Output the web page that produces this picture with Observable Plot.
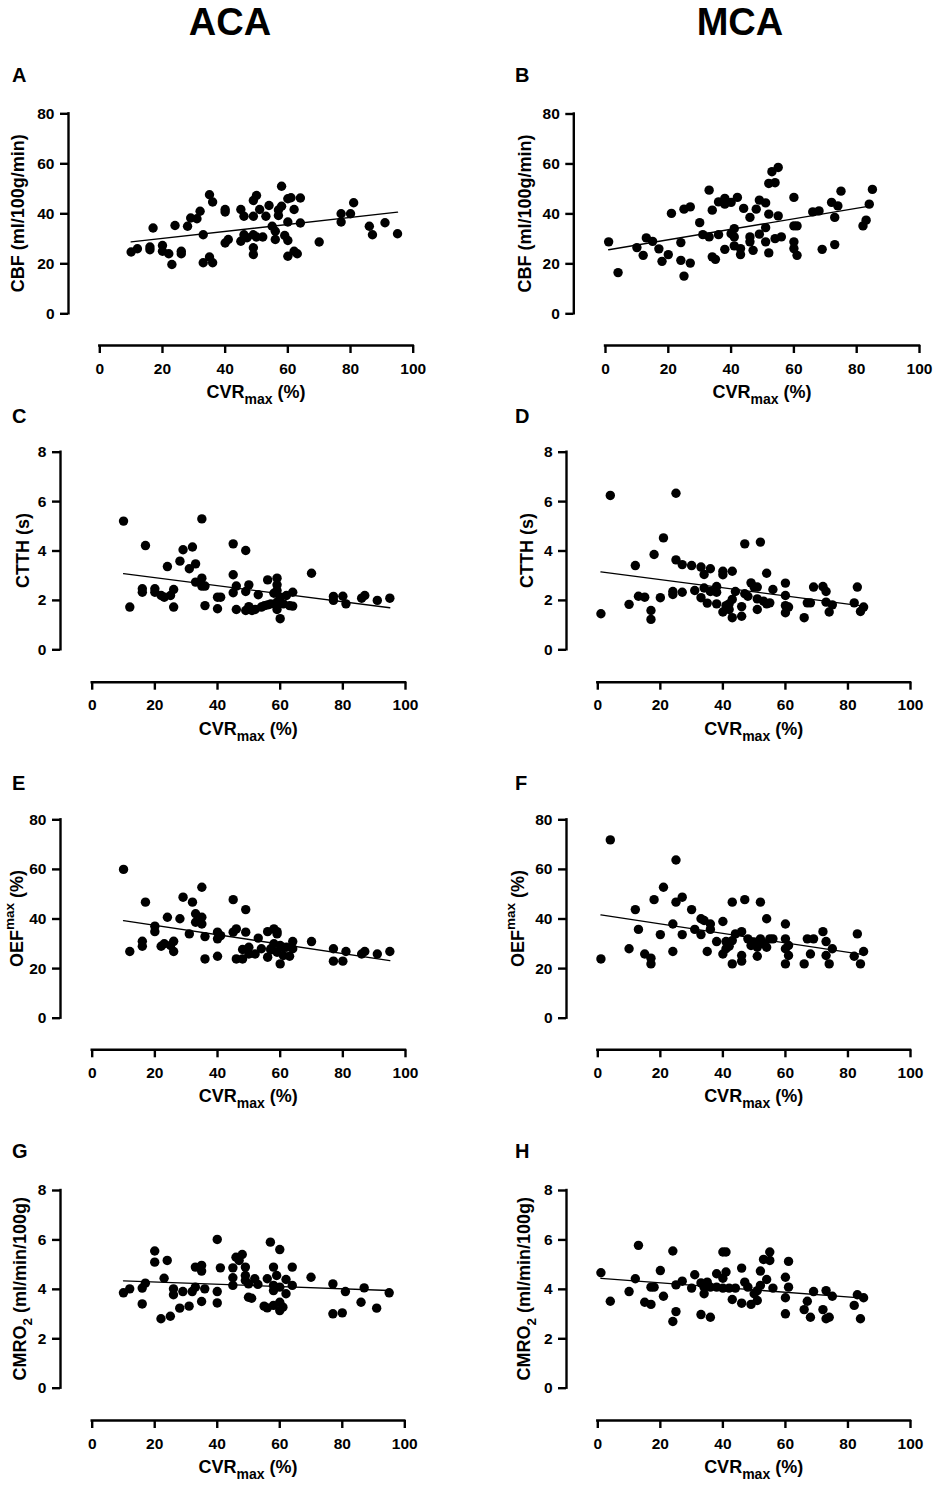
<!DOCTYPE html>
<html><head><meta charset="utf-8">
<script src="https://cdn.jsdelivr.net/npm/d3@7"></script>
<script src="https://cdn.jsdelivr.net/npm/@observablehq/plot@0.6"></script>
<style>
html,body{margin:0;padding:0;background:#fff;}
#page{position:relative;width:935px;height:1488px;overflow:hidden;background:#fff;}
.panel{position:absolute;}
.panel svg{display:block;max-width:none !important;overflow:visible;}
#overlay{position:absolute;left:0;top:0;}
</style></head><body><div id="page"></div>
<script>
// ---------- DATA ----------
const xTicks = [0, 20, 40, 60, 80, 100];
const yTicks80 = [0, 20, 40, 60, 80];
const yTicks8 = [0, 2, 4, 6, 8];

// A: CBF vs CVRmax, ACA
const aCVR = [10,12,16,16,17,20,20,22,23,24,26,26,28,29,31,32,33,33,35,35,36,36,40,40,40,41,45,45,46,46,47,49,49,49,49,49,50,50,51,52,53,54,55,56,56,57,58,58,59,60,60,60,60,61,62,62,63,64,64,70,77,77,80,81,86,87,91,95,57];
const aCBF = [24.7,26,26.7,25.6,34.3,27.3,25,24,19.7,35.3,25,24,35,38.3,38,41,31.6,20.4,47.6,22.7,44.7,20.4,41.7,40.7,28.3,29.7,41.7,29,39,31.6,30.4,45.3,39,31.6,26.4,23.7,47.3,30.7,41.7,30.7,39,43.3,35,33,29.7,39.3,51,43,31.3,46,36.7,29.3,23,46.4,41.7,25,24,46.3,36.3,28.7,40,36.7,40,44.4,35,31.6,36.4,32,41.5];

// B: CBF vs CVRmax, MCA
const bCVR = [1,4,10,12,13,15,17,18,20,21,24,24,25,25,27,27,30,31,33,33,34,34,35,36,36,38,38,38,40,40,41,41,41,42,43,43,44,46,46,46,47,48,49,49,51,51,51,52,52,52,53,54,54,55,55,56,60,60,60,60,61,61,66,68,69,72,73,73,74,75,82,83,84,85];
const bCBF = [28.8,16.5,26.5,23.4,30.4,29,26,21,23.7,40.2,28.5,21.4,41.9,15.1,42.8,20.3,36.5,31.7,49.5,30.8,41.5,22.8,21.8,31.7,44.8,46.2,43.9,25.8,44.6,32.1,30.8,34.1,27.2,46.6,26.1,23.7,42.2,38.6,30.8,28.8,25.4,41.9,45.5,31.9,44.4,34.5,28.8,39.9,24.4,52.2,56.9,52.5,30.1,58.6,39.2,30.8,46.6,35.2,28.8,26.1,35.2,23.4,40.8,41.2,25.8,44.6,38.6,27.7,43.2,49.1,35.2,37.5,43.9,49.8];

// C: CTTH vs CVRmax, ACA
const cCVR = [10,12,16,16,17,20,20,22,23,24,25,26,26,28,29,31,32,33,33,35,35,35,36,36,40,40,41,45,45,45,46,46,49,49,49,50,50,51,52,53,54,55,56,56,57,58,59,59,59,59,59,60,60,61,62,63,64,64,70,77,77,80,81,86,87,91,95];
const cCTTH = [5.21,1.73,2.33,2.47,4.22,2.47,2.33,2.2,2.13,3.37,2.2,2.44,1.73,3.59,4.05,3.28,4.16,3.48,2.74,5.3,2.9,2.58,2.58,1.79,2.13,1.66,2.13,4.29,3.04,2.31,2.58,1.63,4.02,2.36,1.59,2.63,1.75,1.59,1.63,2.23,1.73,1.79,2.83,1.82,1.86,2.29,2.9,2.63,2.4,1.93,1.63,1.26,2.13,1.86,2.2,1.79,2.33,1.77,3.1,2.16,2.0,2.17,1.86,2.09,2.2,2.0,2.09];

// D: CTTH vs CVRmax, MCA
const dCVR = [1,4,10,12,13,15,17,17,18,20,21,24,24,25,25,27,27,30,31,33,33,34,34,35,36,36,38,38,38,40,40,40,41,42,42,43,43,43,44,46,46,47,47,48,49,50,51,51,51,52,53,54,54,55,56,60,60,60,60,61,66,67,68,69,72,73,73,74,75,82,83,84,85];
const dCTTH = [1.46,6.25,1.84,3.41,2.17,2.13,1.59,1.23,3.86,2.11,4.53,2.24,2.36,3.64,6.34,3.45,2.33,3.41,2.4,3.35,2.11,3.05,2.5,1.89,3.28,2.36,2.56,2.33,1.86,3.18,3.04,1.53,1.79,1.86,1.63,3.18,2.04,1.3,2.36,1.75,1.36,4.29,2.27,2.17,2.71,2.54,1.63,2.54,2.06,4.36,1.97,3.1,1.86,1.9,2.44,2.7,2.2,1.79,1.5,1.73,1.3,1.9,1.9,2.54,2.56,2.36,1.93,1.53,1.82,1.9,2.54,1.55,1.73];

// E: OEFmax vs CVRmax, ACA
const eCVR = [10,12,16,16,17,20,20,22,23,24,25,26,26,28,29,31,32,33,33,35,35,35,36,36,40,40,40,41,45,45,46,46,49,49,48,48,50,50,52,53,54,56,56,57,58,58,59,59,59,60,60,61,62,63,64,64,70,77,77,80,81,86,87,91,95,57,61];
const eOEF = [60,26.9,31,29,46.8,37.1,34.9,29,30,40.7,29.3,31,26.9,40.1,48.8,34,46.8,42.1,38.7,52.8,40.7,38,32.9,23.9,34.7,32,25,33.3,47.8,34.7,36,23.9,43.8,34.7,27.7,23.9,28.6,25.9,25.9,32.3,28,34.9,24.6,28,36,30,34.9,34,26.6,21.9,29.3,25.3,28.6,25,30.9,28,30.9,28,23,23,26.9,25.9,26.9,25.9,26.9,27.5,28.5];

// F: OEFmax vs CVRmax, MCA
const fCVR = [1,4,10,12,13,15,17,17,18,20,21,24,24,25,25,27,27,30,31,33,33,34,35,36,36,38,40,40,41,41,42,43,43,43,44,46,46,46,47,48,49,50,51,51,52,52,53,54,54,55,56,60,60,60,60,61,61,66,67,68,69,72,73,73,74,75,82,83,84,85];
const fOEF = [23.9,71.9,28,43.8,35.8,25.9,24.2,21.9,47.8,33.7,52.8,38,26.9,46.8,63.8,48.8,33.7,43.8,35.8,40.1,33.7,39.4,26.9,38,35.8,30.9,39,25.9,30.9,28,29,46.8,21.9,31.3,34,25.3,23,34.9,47.8,32,29.3,30.6,25,28.6,46.8,32,30,40.1,28.6,32,32,38,32,28,21.9,29.3,25.3,21.9,32,25.9,32,34.9,30.9,25.3,21.9,28,25,34,21.9,26.9];

// G: CMRO2 vs CVRmax, ACA
const gCVR = [10,12,16,16,17,20,20,22,23,24,25,26,26,28,29,31,32,33,33,35,35,35,36,40,40,40,41,45,45,45,46,47,48,49,49,49,50,50,51,52,53,55,56,56,57,58,58,58,58,59,60,60,60,60,61,62,62,64,64,70,77,77,80,81,86,87,91,95];
const gCMRO2 = [3.86,4.02,4.05,3.41,4.25,5.55,5.1,2.81,4.45,5.17,2.91,4.02,3.78,3.24,3.91,3.32,3.91,4.9,4.09,4.97,4.74,3.51,4.02,6.02,3.91,3.45,4.87,4.87,4.47,4.16,5.3,5.17,5.41,4.9,4.56,4.36,4.22,3.68,3.64,4.43,4.2,3.32,3.25,4.43,5.91,4.9,4.16,3.95,3.35,4.56,5.61,4.09,3.48,3.14,3.28,4.4,3.82,4.9,4.16,4.49,4.22,3.01,3.05,3.91,3.48,4.06,3.24,3.86];

// H: CMRO2 vs CVRmax, MCA
const hCVR = [1,4,10,12,13,15,17,17,18,20,21,24,24,25,25,27,30,31,33,33,34,34,35,36,36,38,38,40,40,40,41,41,42,43,44,46,46,47,48,49,50,51,51,52,52,53,54,55,55,56,60,60,60,61,61,66,67,68,69,72,73,73,74,75,82,83,84,85];
const hCMRO2 = [4.67,3.52,3.91,4.43,5.78,3.48,3.39,4.09,4.09,4.76,3.72,5.55,2.7,4.18,3.1,4.33,4.05,4.59,2.98,4.26,3.82,4.09,4.29,2.87,4.09,4.63,4.09,5.51,4.45,4.05,5.51,4.7,4.05,3.59,4.05,4.86,3.44,4.29,4.09,3.39,3.82,3.55,3.95,4.74,4.16,5.21,4.4,5.51,5.17,4.05,4.49,3.66,3.01,5.13,4.09,3.18,3.52,2.87,3.91,3.18,3.95,2.81,2.87,3.72,3.35,3.78,2.81,3.66];

const columnTitles = ["ACA", "MCA"];
const xLabel = [{t: "CVR"}, {t: "max", sub: true}, {t: " (%)"}];
const cbfLabel = [{t: "CBF (ml/100g/min)"}];
const ctthLabel = [{t: "CTTH (s)"}];
const oefLabel = [{t: "OEF"}, {t: "max", sup: true}, {t: " (%)"}];
const cmroLabel = [{t: "CMRO"}, {t: "2", sub: true}, {t: " (ml/min/100g)"}];

// ---------- LAYOUT ----------
const FONT = "'Liberation Sans', Arial, Helvetica, sans-serif";
const panels = [
  {letter: "A", xs: aCVR, ys: aCBF, yDomain: [0, 80], yTicks: yTicks80, ylab: cbfLabel,
   L: {yAxisX: 68, x0: 99.3, x100: 412.7, yTop: 113.3, y0: 313.3, xAxisY: 345, yLabB: 24, letterY: 82}},
  {letter: "B", xs: bCVR, ys: bCBF, yDomain: [0, 80], yTicks: yTicks80, ylab: cbfLabel,
   L: {yAxisX: 573.3, x0: 605, x100: 919, yTop: 113.5, y0: 313.3, xAxisY: 345, yLabB: 531, letterY: 82}},
  {letter: "C", xs: cCVR, ys: cCTTH, yDomain: [0, 8], yTicks: yTicks8, ylab: ctthLabel,
   L: {yAxisX: 60, x0: 91.7, x100: 405, yTop: 451.7, y0: 649.3, xAxisY: 681.7, yLabB: 29, letterY: 423}},
  {letter: "D", xs: dCVR, ys: dCTTH, yDomain: [0, 8], yTicks: yTicks8, ylab: ctthLabel,
   L: {yAxisX: 566, x0: 597.3, x100: 910, yTop: 451.7, y0: 649.3, xAxisY: 681.7, yLabB: 533, letterY: 423}},
  {letter: "E", xs: eCVR, ys: eOEF, yDomain: [0, 80], yTicks: yTicks80, ylab: oefLabel,
   L: {yAxisX: 60, x0: 91.7, x100: 405, yTop: 819.3, y0: 1017.7, xAxisY: 1049.3, yLabB: 23, letterY: 790}},
  {letter: "F", xs: fCVR, ys: fOEF, yDomain: [0, 80], yTicks: yTicks80, ylab: oefLabel,
   L: {yAxisX: 566, x0: 597.3, x100: 910, yTop: 819.3, y0: 1017.7, xAxisY: 1049.3, yLabB: 524, letterY: 790}},
  {letter: "G", xs: gCVR, ys: gCMRO2, yDomain: [0, 8], yTicks: yTicks8, ylab: cmroLabel,
   L: {yAxisX: 60, x0: 91.7, x100: 404.3, yTop: 1190, y0: 1387.7, xAxisY: 1420, yLabB: 26, letterY: 1158}},
  {letter: "H", xs: hCVR, ys: hCMRO2, yDomain: [0, 8], yTicks: yTicks8, ylab: cmroLabel,
   L: {yAxisX: 566, x0: 597.3, x100: 910, yTop: 1190, y0: 1387.7, xAxisY: 1420, yLabB: 530, letterY: 1158}}
];

const page = document.getElementById("page");
const tickText = {fontSize: 15.5, fontWeight: "bold", fontFamily: FONT, fill: "black"};

for (const p of panels) {
  const L = p.L;
  const pts = p.xs.map((x, i) => ({x, y: p.ys[i]}));
  const left = Math.round(L.yAxisX - 45);
  const top = Math.round(L.yTop - 12);
  const width = Math.round(L.x100 + 16) - left;
  const height = Math.round(L.xAxisY + 36) - top;
  const gapX = L.x0 - L.yAxisX;   // detached y axis offset
  const gapY = L.xAxisY - L.y0;   // detached x axis offset
  const chart = Plot.plot({
    width, height,
    marginLeft: L.x0 - left,
    marginRight: left + width - L.x100,
    marginTop: L.yTop - top,
    marginBottom: top + height - L.y0,
    style: {fontFamily: FONT, fontSize: "15px", fontWeight: "bold", background: "transparent", color: "black", overflow: "visible"},
    x: {domain: [0, 100]},
    y: {domain: p.yDomain},
    marks: [
      Plot.ruleX([0], {y1: p.yDomain[0], y2: p.yDomain[1], dx: -gapX, stroke: "black", strokeWidth: 2.4, strokeLinecap: "square"}),
      Plot.ruleY([p.yDomain[0]], {x1: 0, x2: 100, dy: gapY, stroke: "black", strokeWidth: 2.4, strokeLinecap: "square"}),
      Plot.axisY({ticks: p.yTicks, tickSize: 8, tickPadding: 6, strokeWidth: 2.4, dx: -gapX, label: null, tickFormat: d => String(d), ...tickText}),
      Plot.axisX({ticks: xTicks, tickSize: 8, tickPadding: 9, strokeWidth: 2.4, dy: gapY, label: null, tickFormat: d => String(d), ...tickText}),
      Plot.dot(pts, {x: "x", y: "y", r: 4.7, fill: "black"}),
      Plot.linearRegressionY(pts, {x: "x", y: "y", stroke: "black", strokeWidth: 1.3, ci: 0})
    ]
  });
  const div = document.createElement("div");
  div.className = "panel";
  div.style.left = left + "px";
  div.style.top = top + "px";
  div.appendChild(chart);
  page.appendChild(div);
}

// ---------- TEXT OVERLAY ----------
const svg = d3.select("#page").append("svg")
  .attr("id", "overlay").attr("width", 935).attr("height", 1488)
  .attr("font-family", FONT).attr("font-weight", "bold").attr("fill", "black");

function addSegments(text, segs, size, subSize, shift) {
  let cur = 0;
  for (const s of segs) {
    const target = s.sub ? shift : s.sup ? -shift * 1.5 : 0;
    const ts = text.append("tspan").text(s.t).attr("font-size", (s.sub || s.sup) ? subSize : size);
    if (target !== cur) ts.attr("dy", target - cur);
    cur = target;
  }
}

svg.append("text").attr("x", 230).attr("y", 35).attr("text-anchor", "middle").attr("font-size", 38).text(columnTitles[0]);
svg.append("text").attr("x", 740).attr("y", 35).attr("text-anchor", "middle").attr("font-size", 38).text(columnTitles[1]);

panels.forEach((p, i) => {
  const L = p.L;
  const letterX = i % 2 === 0 ? 12 : 515;
  svg.append("text").attr("x", letterX).attr("y", L.letterY).attr("font-size", 20).text(p.letter);
  // x axis title
  const xt = svg.append("text").attr("x", (L.x0 + L.x100) / 2).attr("y", L.xAxisY + 53).attr("text-anchor", "middle");
  addSegments(xt, xLabel, 18, 14, 6);
  // y axis title (rotated)
  const yt = svg.append("text")
    .attr("transform", `translate(${L.yLabB},${(L.yTop + L.y0) / 2}) rotate(-90)`)
    .attr("text-anchor", "middle");
  addSegments(yt, p.ylab, 18, 13.5, 6);
});
</script>
</body></html>
